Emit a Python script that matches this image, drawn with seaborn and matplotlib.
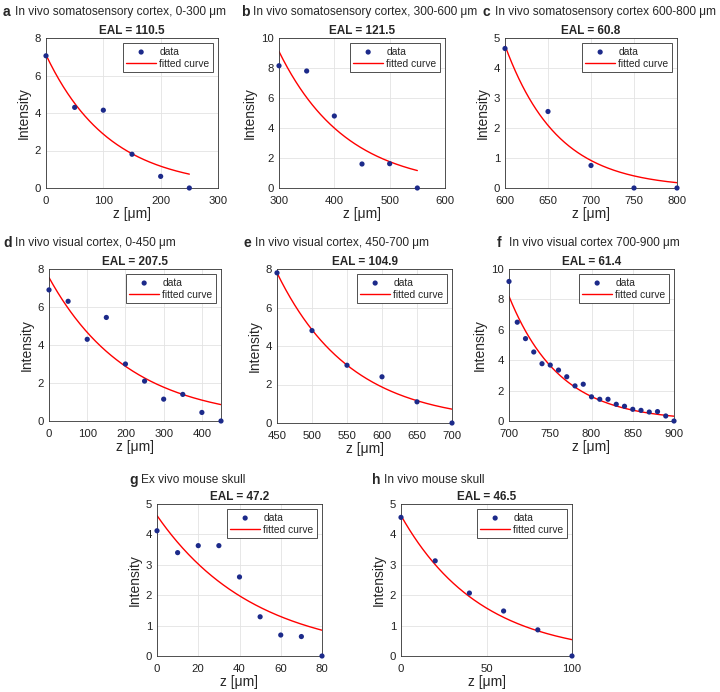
import numpy as np
import pandas as pd
import matplotlib
matplotlib.use("Agg")
import matplotlib.pyplot as plt
import seaborn as sns

sns.set_style("whitegrid")
plt.rcParams['font.family'] = ['Liberation Sans', 'DejaVu Sans']

# ---------------- data ----------------
letters = ["a", "b", "c", "d", "e", "f", "g", "h"]
headers = [
    "In vivo somatosensory cortex, 0-300 μm",
    "In vivo somatosensory cortex, 300-600 μm",
    "In vivo somatosensory cortex 600-800 μm",
    "In vivo visual cortex, 0-450 μm",
    "In vivo visual cortex, 450-700 μm",
    "In vivo visual cortex 700-900 μm",
    "Ex vivo mouse skull",
    "In vivo mouse skull",
]
eal = [110.5, 121.5, 60.8, 207.5, 104.9, 61.4, 47.2, 46.5]
amp = [7.1, 9.1, 4.75, 7.55, 7.8, 8.2, 4.62, 4.62]

z_a = [0, 50, 100, 150, 200, 250]
i_a = [7.05, 4.3, 4.15, 1.8, 0.62, 0.0]
z_b = [300, 350, 400, 450, 500, 550]
i_b = [8.15, 7.8, 4.8, 1.6, 1.62, 0.0]
z_c = [600, 650, 700, 750, 800]
i_c = [4.65, 2.55, 0.75, 0.0, 0.0]
z_d = [0, 50, 100, 150, 200, 250, 300, 350, 400, 450]
i_d = [6.9, 6.3, 4.3, 5.45, 3.0, 2.1, 1.15, 1.4, 0.45, 0.0]
z_e = [450, 500, 550, 600, 650, 700]
i_e = [7.8, 4.8, 3.0, 2.4, 1.1, 0.0]
z_f = [700, 710, 720, 730, 740, 750, 760, 770, 780, 790, 800,
       810, 820, 830, 840, 850, 860, 870, 880, 890, 900]
i_f = [9.18, 6.5, 5.42, 4.54, 3.77, 3.68, 3.35, 2.91, 2.31, 2.42, 1.59,
       1.43, 1.43, 1.1, 0.97, 0.77, 0.70, 0.59, 0.62, 0.33, 0.0]
z_g = [0, 10, 20, 30, 40, 50, 60, 70, 80]
i_g = [4.12, 3.40, 3.63, 3.63, 2.60, 1.29, 0.69, 0.64, 0.0]
z_h = [0, 20, 40, 60, 80, 100]
i_h = [4.56, 3.13, 2.07, 1.48, 0.86, 0.0]

zs = [z_a, z_b, z_c, z_d, z_e, z_f, z_g, z_h]
ints = [i_a, i_b, i_c, i_d, i_e, i_f, i_g, i_h]

xlims = [(0, 300), (300, 600), (600, 800), (0, 450), (450, 700), (700, 900), (0, 80), (0, 100)]
xticks = [np.arange(0, 301, 100), np.arange(300, 601, 100), np.arange(600, 801, 50),
          np.arange(0, 401, 100), np.arange(450, 701, 50), np.arange(700, 901, 50),
          np.arange(0, 81, 20), np.arange(0, 101, 50)]
ylims = [8, 10, 5, 8, 8, 10, 5, 5]
ysteps = [2, 2, 1, 2, 2, 2, 1, 1]

# layout in pixels: left, top, right, bottom
boxes = [(46, 38, 218, 188), (279, 38, 445, 188), (505, 38, 677, 188),
         (49, 269, 221, 421), (277, 269, 452, 423), (509, 269, 674, 421),
         (157, 504, 322, 656), (401, 504, 572, 656)]
head_pos = [(3, 12), (241, 12), (483, 12), (3, 243), (243, 243), (497, 243),
            (129, 480), (372, 480)]

W, H = 720, 692
fig = plt.figure(figsize=(W / 100, H / 100), dpi=100)

dot_color = "#1c2a8a"

for k in range(8):
    l, t, r, b = boxes[k]
    ax = fig.add_axes([l / W, (H - b) / H, (r - l) / W, (b - t) / H])
    df = pd.DataFrame({"z": zs[k], "I": ints[k]})
    zz = np.linspace(zs[k][0], zs[k][-1], 200)
    fit = pd.DataFrame({"z": zz, "I": amp[k] * np.exp(-(zz - zs[k][0]) / eal[k])})
    sns.scatterplot(data=df, x="z", y="I", ax=ax, color=dot_color, s=14,
                    edgecolor="none", label="data", zorder=3, clip_on=False)
    sns.lineplot(data=fit, x="z", y="I", ax=ax, color="#ff0000", lw=1.0,
                 label="fitted curve", zorder=2)
    ax.set_xlim(*xlims[k])
    ax.set_ylim(0, ylims[k])
    ax.set_xticks(xticks[k])
    ax.set_yticks(np.arange(0, ylims[k] + 0.01, ysteps[k]))
    ax.grid(True, color="#e3e3e3", lw=0.6)
    for sp in ax.spines.values():
        sp.set_color("#333333")
        sp.set_linewidth(0.6)
        sp.set_visible(True)
    ax.tick_params(direction="in", length=2.5, width=0.5, colors="#222222",
                   labelsize=8.2)
    ax.tick_params(axis="x", pad=5.5)
    ax.tick_params(axis="y", pad=3.5)
    ax.set_xlabel("z [μm]", fontsize=10, labelpad=1)
    ax.set_ylabel("Intensity", fontsize=10, labelpad=3)
    ax.set_title(f"EAL = {eal[k]}", fontsize=8.5, fontweight="bold", pad=3)
    leg = ax.legend(loc="upper right", fontsize=7.4, frameon=True, fancybox=False,
                    borderpad=0.35, handlelength=2.9, handletextpad=0.3,
                    labelspacing=0.2, borderaxespad=0.5)
    leg.get_frame().set_edgecolor("#333333")
    leg.get_frame().set_linewidth(0.6)
    leg.get_frame().set_alpha(1)
    hx, hy = head_pos[k]
    fig.text(hx / W, 1 - hy / H, letters[k], fontsize=10, fontweight="bold",
             va="center", ha="left")
    fig.text((hx + 12) / W, 1 - hy / H, headers[k], fontsize=8.6, va="center", ha="left")

fig.savefig("out.png", dpi=100)
